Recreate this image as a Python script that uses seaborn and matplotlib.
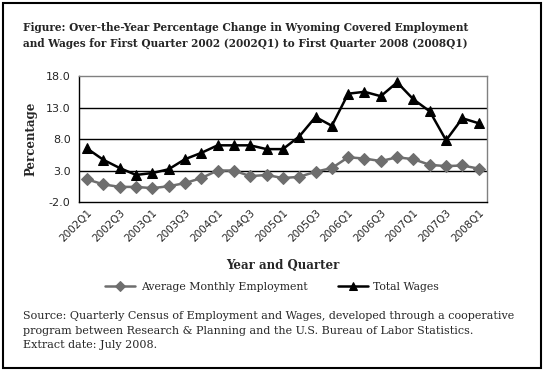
import pandas as pd
import seaborn as sns
import matplotlib.pyplot as plt
from matplotlib.patches import Rectangle

# quarters 2002Q1 .. 2008Q1
quarters = [f"{y}Q{q}" for y in range(2002, 2009) for q in range(1, 5)][:25]

# over-the-year % change
employment = [1.6, 0.8, 0.4, 0.4, 0.2, 0.5, 1.0, 1.8, 3.0, 3.0, 2.1, 2.3, 1.8,
              2.0, 2.8, 3.4, 5.1, 4.9, 4.5, 5.1, 4.8, 3.9, 3.7, 3.8, 3.3]
wages = [6.5, 4.7, 3.4, 2.3, 2.6, 3.2, 4.8, 5.8, 7.0, 7.0, 7.0, 6.4, 6.4,
         8.4, 11.5, 10.1, 15.2, 15.5, 14.8, 17.0, 14.3, 12.4, 7.8, 11.3, 10.5]

yticks = [-2, 3, 8, 13, 18]

df = pd.DataFrame({"quarter": quarters, "Average Monthly Employment": employment,
                   "Total Wages": wages})
df["pos"] = range(len(df))

sns.set_style("white")
plt.rcParams["font.family"] = ["DejaVu Serif"]

fig = plt.figure(figsize=(5.44, 3.71), dpi=100)
ax = fig.add_axes([0.145, 0.4555, 0.75, 0.3395])

sns.lineplot(data=df, x="pos", y="Average Monthly Employment", ax=ax, color="#6e6e6e",
             marker="D", markersize=5.8, markeredgecolor="#6e6e6e", linewidth=1.8,
             label="Average Monthly Employment", legend=False)
sns.lineplot(data=df, x="pos", y="Total Wages", ax=ax, color="black",
             marker="^", markersize=7.5, markeredgecolor="black", linewidth=1.8,
             label="Total Wages", legend=False)

ax.set_xlim(-0.5, len(df) - 0.5)
ax.set_ylim(-2, 18)
ax.set_yticks(yticks)
ax.set_yticklabels([f"{v:.1f}" for v in yticks], family="DejaVu Sans", fontsize=8)
for v in yticks[1:-1]:
    ax.axhline(v, color="black", linewidth=1, zorder=0)

# category boundary ticks, labels on every other quarter
ax.set_xticks([i - 0.5 for i in range(len(df) + 1)], minor=True)
ax.set_xticks(df["pos"][::2])
ax.set_xticklabels(df["quarter"][::2], rotation=45, ha="right", rotation_mode="anchor",
                   family="DejaVu Sans", fontsize=7.5)
ax.tick_params(axis="x", which="major", length=0, pad=4)
ax.tick_params(axis="x", which="minor", length=4, width=1, color="black", direction="out")
ax.tick_params(axis="y", length=4, width=1, color="black", direction="out", pad=2)

for s in ["top", "right"]:
    ax.spines[s].set_color("#808080")
for s in ["left", "bottom"]:
    ax.spines[s].set_color("black")
for s in ax.spines.values():
    s.set_linewidth(1)

ax.set_xlabel("Year and Quarter", fontsize=8.5, fontweight="bold", labelpad=11)
ax.set_ylabel("Percentage", fontsize=8.5, fontweight="bold", labelpad=6)

fig.legend(loc="center", bbox_to_anchor=(0.5, 0.226), ncol=2, frameon=False,
           fontsize=7.8, handlelength=2.8, columnspacing=2.8, handletextpad=0.5,
           markerscale=0.8)

fig.text(0.042, 0.904, "Figure: Over-the-Year Percentage Change in Wyoming Covered Employment\n"
         "and Wages for First Quarter 2002 (2002Q1) to First Quarter 2008 (2008Q1)",
         fontsize=7.6, fontweight="bold", va="center", linespacing=1.6)
fig.text(0.042, 0.109, "Source: Quarterly Census of Employment and Wages, developed through a cooperative\n"
         "program between Research & Planning and the U.S. Bureau of Labor Statistics.\n"
         "Extract date: July 2008.", fontsize=8, va="center", linespacing=1.55)

fig.patches.append(Rectangle((0.006, 0.008), 0.988, 0.984, transform=fig.transFigure,
                             fill=False, edgecolor="black", linewidth=1.5))

fig.savefig("out.png", dpi=100)
